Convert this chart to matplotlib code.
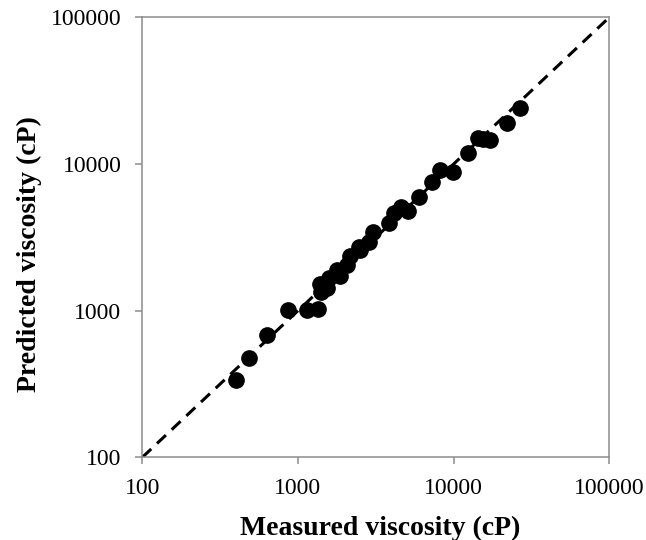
import matplotlib
matplotlib.use('Agg')
import matplotlib.pyplot as plt

plt.rcParams['font.family'] = ['Liberation Serif', 'DejaVu Serif']

# viscosidad medida vs. predicha (cP)
measured = [400, 484, 630, 866, 1137, 1337, 1399, 1385, 1528, 1589, 1862, 1771,
            2055, 2159, 2502, 2478, 2872, 3017, 3863, 4159, 4569, 5118, 6012,
            7223, 8170, 9858, 12310, 14270, 15500, 17100, 21880, 26680]
predicted = [337, 473, 682, 1011, 1010, 1026, 1349, 1520, 1419, 1679, 1733, 1892,
             2047, 2360, 2594, 2704, 2951, 3459, 3937, 4656, 5118, 4784, 5984,
             7578, 9108, 8872, 11830, 14970, 14800, 14580, 19150, 24200]
limits = [100, 100000]
ticks = [100, 1000, 10000, 100000]
tick_labels = ['100', '1000', '10000', '100000']

fig = plt.figure(figsize=(6.46, 5.40), dpi=100)
ax = fig.add_axes([0.2203, 0.1531, 0.7229, 0.8148])

# linea 1:1
ax.plot(limits, limits, color='black', lw=2.2, dashes=(4, 2.6), zorder=2)
ax.plot(measured, predicted, 'o', color='black', ms=11, mec='black', zorder=3)

ax.set_xscale('log')
ax.set_yscale('log')
ax.set_xlim(limits)
ax.set_ylim(limits)
ax.set_xticks(ticks)
ax.set_xticklabels(tick_labels)
ax.set_yticks(ticks)
ax.set_yticklabels(tick_labels)
ax.minorticks_off()

for s in ax.spines.values():
    s.set_color('#8c8c8c')
    s.set_linewidth(1.1)
ax.tick_params(axis='both', which='major', direction='out', length=5,
               width=1.1, color='#8c8c8c', labelsize=17, pad=10)

fig.text(0.588, 0.0093, 'Measured viscosity (cP)', fontsize=20,
         fontweight='bold', ha='center', va='baseline')
fig.text(0.045, 0.529, 'Predicted viscosity (cP)', fontsize=20,
         fontweight='bold', rotation=90, ha='center', va='center')

fig.savefig('out.png', dpi=100)
